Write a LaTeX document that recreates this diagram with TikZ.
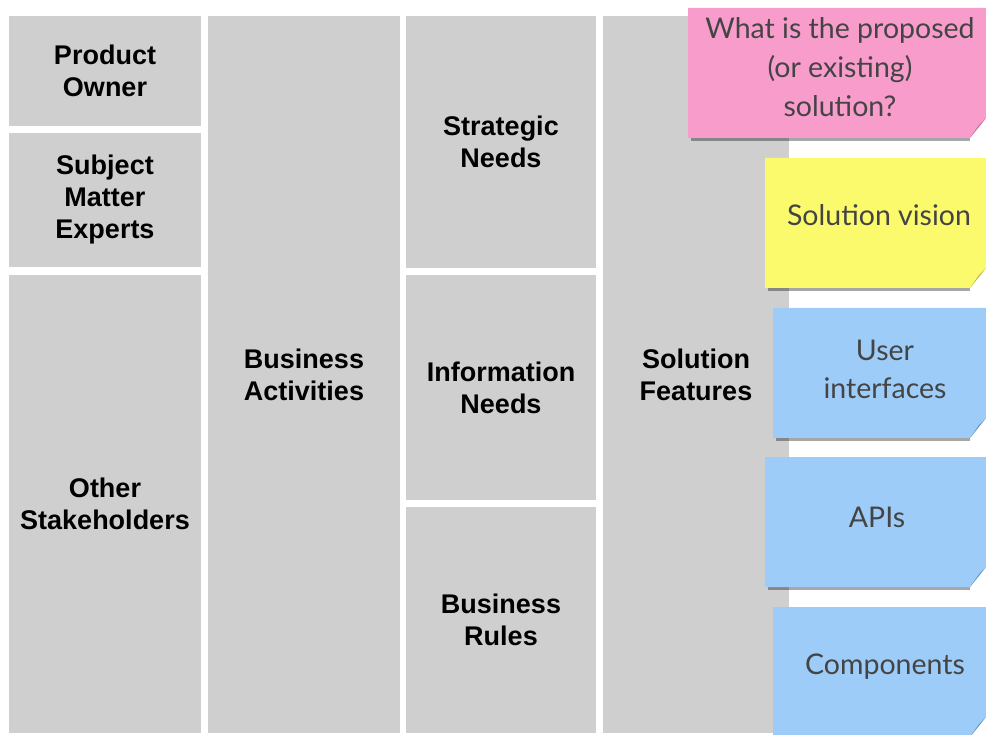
\documentclass[tikz,border=0pt]{standalone}
\usepackage{fontspec}
\setmainfont{Liberation Sans}
\newfontfamily\handfont{Lato}
\usepackage{tikz}
\usetikzlibrary{positioning}

\definecolor{boxgray}{HTML}{CFCFCF}
\definecolor{notepink}{HTML}{F89CCB}
\definecolor{notepinkdark}{HTML}{C46E97}
\definecolor{noteyellow}{HTML}{FAFA6C}
\definecolor{noteyellowdark}{HTML}{B3B34A}
\definecolor{noteblue}{HTML}{9ECCF8}
\definecolor{notebluedark}{HTML}{6696C2}
\definecolor{inkgray}{HTML}{444444}

\tikzset{
  area/.style={fill=boxgray, inner sep=0pt, align=center,
    font=\bfseries\fontsize{27}{32}\selectfont},
  notetext/.style={align=center, text=inkgray,
    font=\handfont\fontsize{28.5}{39}\selectfont},
}

% sticky note: x1, y1, x2, y2, fill, fold colour
\newcommand{\stickynote}[6]{%
  \fill[black, opacity=0.35] (#1+3,#4-1) rectangle (#3-16,#4+3);
  \fill[#5] (#1,#2) -- (#3,#2) -- (#3,#4-20) -- (#3-16,#4) -- (#1,#4) -- cycle;
  \fill[#6] (#3,#4-20) -- (#3-16,#4) -- (#3-7,#4-13) -- cycle;
}

\begin{document}
\begin{tikzpicture}[x=1pt, y=-1pt]
    \useasboundingbox (0,0) rectangle (986,735);

    % stakeholders
    \node[area, minimum width=192, minimum height=110] (owner) at (105,71) {Product\\Owner};
    \node[area, minimum width=192, minimum height=134] (experts) at (105,200) {Subject\\Matter\\Experts};
    \node[area, minimum width=192, minimum height=458] (others) at (105,504) {Other\\Stakeholders};

    % activities
    \node[area, minimum width=192, minimum height=717] (activities) at (304,374.5) {Business\\Activities};

    % needs and rules
    \node[area, minimum width=190, minimum height=252] (strategic) at (501,142) {Strategic\\Needs};
    \node[area, minimum width=190, minimum height=225] (information) at (501,387.5) {Information\\Needs};
    \node[area, minimum width=190, minimum height=226] (rules) at (501,620) {Business\\Rules};

    % features
    \node[area, minimum width=186, minimum height=717] (features) at (696,374.5) {Solution\\Features};

    % sticky notes
    \stickynote{688}{8}{986}{138}{notepink}{notepinkdark}
    \node[notetext] (question) at (840,67) {What is the proposed\\(or existing)\\solution?};

    \stickynote{765}{158}{986}{288}{noteyellow}{noteyellowdark}
    \node[notetext] (vision) at (879,215) {Solution vision};

    \stickynote{773}{308}{986}{438}{noteblue}{notebluedark}
    \node[notetext, font=\handfont\fontsize{28.5}{38}\selectfont] (ui) at (885,369) {User\\interfaces};

    \stickynote{765}{457}{986}{587}{noteblue}{notebluedark}
    \node[notetext] (apis) at (877,517) {APIs};

    \stickynote{773}{607}{986}{737}{noteblue}{notebluedark}
    \node[notetext] (components) at (885,667) {Components};
\end{tikzpicture}
\end{document}
